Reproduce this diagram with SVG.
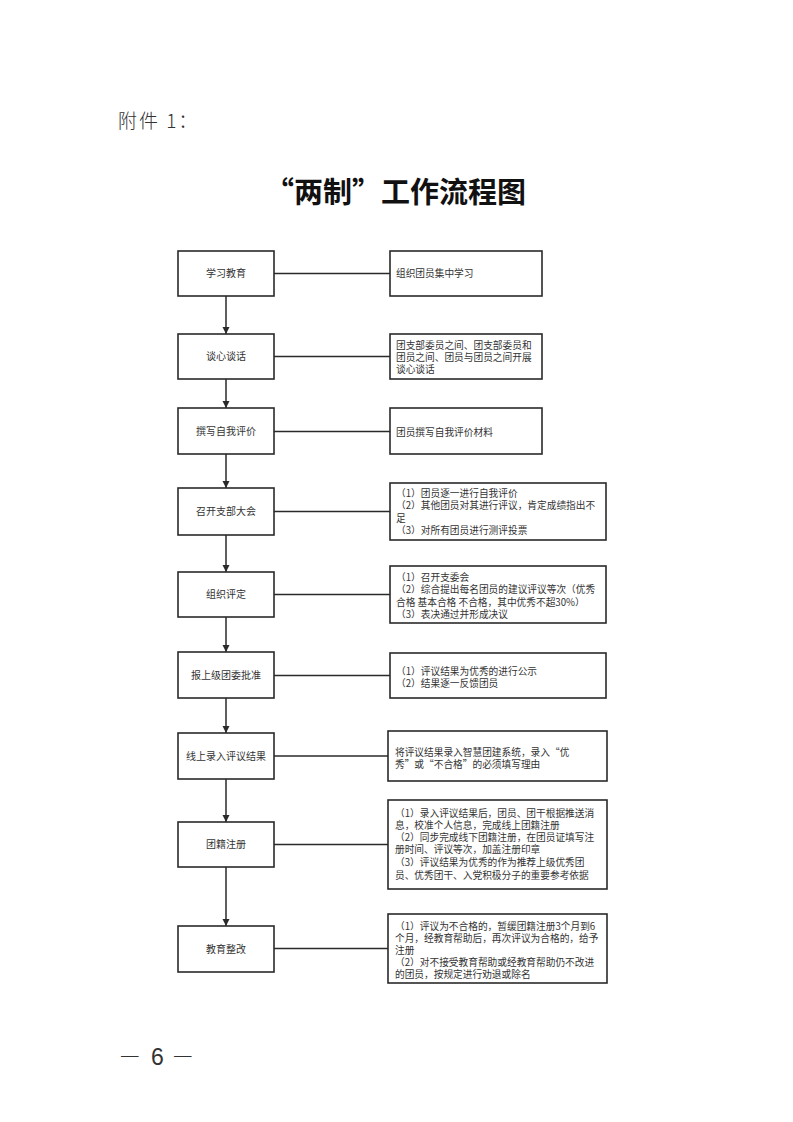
<svg xmlns="http://www.w3.org/2000/svg" width="793" height="1122" viewBox="0 0 793 1122">
<defs>
<style>
.bg{fill:#ffffff}
.box{fill:#ffffff;stroke:#2a2a2a;stroke-width:1.6}
.conn{fill:none;stroke:#2a2a2a;stroke-width:1.5}
.lbl{font-family:"Noto Sans CJK SC","Noto Sans",sans-serif;font-size:10px;fill:#333333;text-anchor:middle}
.txt{font-family:"Noto Sans CJK SC","Noto Sans",sans-serif;font-size:9.7px;fill:#333333}
.title{font-family:"Noto Sans CJK SC",sans-serif;font-size:29px;font-weight:700;fill:#111111}
.att{font-family:"Noto Sans CJK SC",sans-serif;font-size:19px;font-weight:300;fill:#333333}
.pg{font-family:"Noto Sans CJK SC",sans-serif;font-size:22px;font-weight:300;fill:#333333}
.pgn{font-family:"Liberation Sans",sans-serif;font-size:23px;fill:#333333}
</style>
<marker id="arr" viewBox="0 0 10 10" refX="10" refY="5" markerWidth="7" markerHeight="9" markerUnits="userSpaceOnUse" orient="auto">
<path d="M0,0 L10,5 L0,10 z" fill="#2a2a2a"/>
</marker>
</defs>
<rect class="bg" x="0" y="0" width="793" height="1122"/>

<text class="att" x="118" y="128" letter-spacing="2">附件 1：</text>
<text class="title" x="265" y="203">“两制”工作流程图</text>

<g id="connectors">
<line class="conn" x1="274" y1="273.5" x2="390" y2="273.5"/>
<line class="conn" x1="274" y1="356.5" x2="390" y2="356.5"/>
<line class="conn" x1="274" y1="431.5" x2="390" y2="431.5"/>
<line class="conn" x1="274" y1="511.5" x2="390" y2="511.5"/>
<line class="conn" x1="274" y1="594.5" x2="390" y2="594.5"/>
<line class="conn" x1="274" y1="675.5" x2="390" y2="675.5"/>
<line class="conn" x1="274" y1="756" x2="388" y2="756"/>
<line class="conn" x1="274" y1="844.5" x2="388" y2="844.5"/>
<line class="conn" x1="274" y1="948.5" x2="388" y2="948.5"/>
<line class="conn" x1="226" y1="296" x2="226" y2="334" marker-end="url(#arr)"/>
<line class="conn" x1="226" y1="379" x2="226" y2="408" marker-end="url(#arr)"/>
<line class="conn" x1="226" y1="454" x2="226" y2="488" marker-end="url(#arr)"/>
<line class="conn" x1="226" y1="535" x2="226" y2="572" marker-end="url(#arr)"/>
<line class="conn" x1="226" y1="617" x2="226" y2="652" marker-end="url(#arr)"/>
<line class="conn" x1="226" y1="698" x2="226" y2="733" marker-end="url(#arr)"/>
<line class="conn" x1="226" y1="779" x2="226" y2="822" marker-end="url(#arr)"/>
<line class="conn" x1="226" y1="867" x2="226" y2="926" marker-end="url(#arr)"/>
</g>

<g id="n1">
<rect class="box" x="178" y="251" width="96" height="45"/>
<text class="lbl" x="226" y="277">学习教育</text>
</g>
<g id="d1">
<rect class="box" x="390" y="251" width="152" height="45"/>
<text class="txt" x="396" y="277">组织团员集中学习</text>
</g>

<g id="n2">
<rect class="box" x="178" y="334" width="96" height="45"/>
<text class="lbl" x="226" y="360">谈心谈话</text>
</g>
<g id="d2">
<rect class="box" x="390" y="334" width="152" height="45"/>
<text class="txt" x="396" y="348.5">团支部委员之间、团支部委员和</text>
<text class="txt" x="396" y="360.5">团员之间、团员与团员之间开展</text>
<text class="txt" x="396" y="372.5">谈心谈话</text>
</g>

<g id="n3">
<rect class="box" x="178" y="408" width="96" height="46"/>
<text class="lbl" x="226" y="435">撰写自我评价</text>
</g>
<g id="d3">
<rect class="box" x="390" y="408" width="152" height="46"/>
<text class="txt" x="396" y="435.5">团员撰写自我评价材料</text>
</g>

<g id="n4">
<rect class="box" x="178" y="488" width="96" height="47"/>
<text class="lbl" x="226" y="515">召开支部大会</text>
</g>
<g id="d4">
<rect class="box" x="390" y="483" width="216" height="57"/>
<text class="txt" x="396" y="496.5">（1）团员逐一进行自我评价</text>
<text class="txt" x="396" y="509">（2）其他团员对其进行评议，肯定成绩指出不</text>
<text class="txt" x="396" y="521.5">足</text>
<text class="txt" x="396" y="534">（3）对所有团员进行测评投票</text>
</g>

<g id="n5">
<rect class="box" x="178" y="572" width="96" height="45"/>
<text class="lbl" x="226" y="598">组织评定</text>
</g>
<g id="d5">
<rect class="box" x="390" y="566" width="216" height="57"/>
<text class="txt" x="396" y="580.5">（1）召开支委会</text>
<text class="txt" x="396" y="593">（2）综合提出每名团员的建议评议等次（优秀</text>
<text class="txt" x="396" y="605.5">合格 基本合格 不合格，其中优秀不超30%）</text>
<text class="txt" x="396" y="618">（3）表决通过并形成决议</text>
</g>

<g id="n6">
<rect class="box" x="178" y="652" width="96" height="46"/>
<text class="lbl" x="226" y="679">报上级团委批准</text>
</g>
<g id="d6">
<rect class="box" x="390" y="653" width="216" height="45"/>
<text class="txt" x="396" y="674.5">（1）评议结果为优秀的进行公示</text>
<text class="txt" x="396" y="687">（2）结果逐一反馈团员</text>
</g>

<g id="n7">
<rect class="box" x="178" y="733" width="96" height="46"/>
<text class="lbl" x="226" y="760">线上录入评议结果</text>
</g>
<g id="d7">
<rect class="box" x="388" y="731" width="219" height="50"/>
<text class="txt" x="395" y="755.5">将评议结果录入智慧团建系统，录入“优</text>
<text class="txt" x="395" y="767.5">秀”或“不合格”的必须填写理由</text>
</g>

<g id="n8">
<rect class="box" x="178" y="822" width="96" height="45"/>
<text class="lbl" x="226" y="848">团籍注册</text>
</g>
<g id="d8">
<rect class="box" x="388" y="800" width="219" height="89"/>
<text class="txt" x="395" y="816.5">（1）录入评议结果后，团员、团干根据推送消</text>
<text class="txt" x="395" y="829">息，校准个人信息，完成线上团籍注册</text>
<text class="txt" x="395" y="841">（2）同步完成线下团籍注册，在团员证填写注</text>
<text class="txt" x="395" y="853">册时间、评议等次，加盖注册印章</text>
<text class="txt" x="395" y="865.5">（3）评议结果为优秀的作为推荐上级优秀团</text>
<text class="txt" x="395" y="878.5">员、优秀团干、入党积极分子的重要参考依据</text>
</g>

<g id="n9">
<rect class="box" x="178" y="926" width="96" height="46"/>
<text class="lbl" x="226" y="952.5">教育整改</text>
</g>
<g id="d9">
<rect class="box" x="388" y="914" width="219" height="69"/>
<text class="txt" x="395" y="929.5">（1）评议为不合格的，暂缓团籍注册3个月到6</text>
<text class="txt" x="395" y="941.5">个月，经教育帮助后，再次评议为合格的，给予</text>
<text class="txt" x="395" y="953.5">注册</text>
<text class="txt" x="395" y="965.5">（2）对不接受教育帮助或经教育帮助仍不改进</text>
<text class="txt" x="395" y="977.5">的团员，按规定进行劝退或除名</text>
</g>

<text class="pg" x="120" y="1063">—</text>
<text class="pgn" x="151" y="1065">6</text>
<text class="pg" x="173" y="1063">—</text>
</svg>
